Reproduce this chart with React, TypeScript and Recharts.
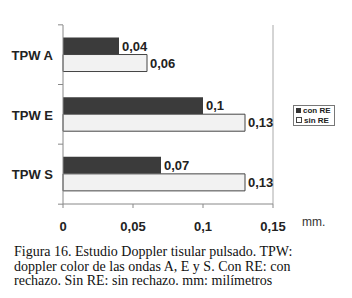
import { BarChart, Bar, XAxis, YAxis, LabelList, ReferenceLine } from 'recharts'

const categories = ['TPW A', 'TPW E', 'TPW S']
const conRE = [0.04, 0.1, 0.07]
const sinRE = [0.06, 0.13, 0.13]
const xTicks = [0, 0.05, 0.1, 0.15]

const data = categories.map((name, i) => ({ name, con: conRE[i], sin: sinRE[i] }))

const comma = (v: any) => String(v).replace('.', ',')
const SANS = '"Liberation Sans", Arial, sans-serif'
const HALF_BAND = 30

// category label plus the small tick marks sitting on the band edges
function CatTick(props: any) {
  const { x, y, payload, index } = props
  return (
    <g>
      <line x1={63} x2={58} y1={y - HALF_BAND} y2={y - HALF_BAND} stroke="#888" />
      {index === categories.length - 1 && (
        <line x1={63} x2={58} y1={y + HALF_BAND} y2={y + HALF_BAND} stroke="#888" />
      )}
      <text x={x} y={y} dy={5} textAnchor="end" fontSize={13} fontWeight="bold" fill="#222" fontFamily={SANS}>
        {payload.value}
      </text>
    </g>
  )
}

function LegendBox() {
  return (
    <div
      style={{
        position: 'absolute', left: 293, top: 105, width: 42, height: 21,
        border: '1px solid #777', fontFamily: SANS, fontSize: 8, fontWeight: 'bold',
        color: '#222', lineHeight: '10px', padding: '0 0 0 2px', boxSizing: 'border-box',
      }}
    >
      <div>
        <span style={{ display: 'inline-block', width: 5, height: 5, background: '#333', marginRight: 2 }} />
        con RE
      </div>
      <div>
        <span style={{ display: 'inline-block', width: 4, height: 4, border: '1px solid #444', background: '#fff', marginRight: 2 }} />
        sin RE
      </div>
    </div>
  )
}

export default function App() {
  return (
    <div style={{ position: 'absolute', left: 0, top: 0, width: 352, height: 298, background: '#fff' }}>
      <BarChart
        width={352}
        height={240}
        data={data}
        layout="vertical"
        margin={{ top: 25, right: 79, left: 5, bottom: 6 }}
        barCategoryGap="21%"
        barGap={0}
      >
        <XAxis
          type="number"
          domain={[0, 0.15]}
          ticks={xTicks}
          tickFormatter={comma}
          tick={{ fontSize: 13, fontWeight: 'bold', fill: '#222', fontFamily: SANS }}
          stroke="#888"
          tickSize={4}
          tickMargin={14}
          height={30}
        />
        <YAxis
          type="category"
          dataKey="name"
          width={58}
          tick={<CatTick />}
          stroke="#888"
          tickLine={false}
          tickSize={0}
          tickMargin={10}
        />
        <ReferenceLine x={0.15} stroke="#aaa" />
        <Bar dataKey="con" fill="#3b3b3b" isAnimationActive={false}>
          <LabelList dataKey="con" position="right" offset={3} formatter={comma}
            style={{ fontSize: 13, fontWeight: 'bold', fill: '#222', fontFamily: SANS }} />
        </Bar>
        <Bar dataKey="sin" fill="#f2f2f2" stroke="#444" strokeWidth={1} isAnimationActive={false}>
          <LabelList dataKey="sin" position="right" offset={3} formatter={comma}
            style={{ fontSize: 13, fontWeight: 'bold', fill: '#222', fontFamily: SANS }} />
        </Bar>
      </BarChart>
      <LegendBox />
      <div style={{ position: 'absolute', left: 302, top: 215, fontFamily: SANS, fontSize: 12, color: '#333' }}>mm.</div>
      <div
        style={{
          position: 'absolute', left: 14, top: 245, width: 336,
          fontFamily: '"Liberation Serif", "Times New Roman", serif', fontSize: 14,
          lineHeight: '14.5px', color: '#111', whiteSpace: 'nowrap',
        }}
      >
        Figura 16. Estudio Doppler tisular pulsado. TPW:<br />
        doppler color de las ondas A, E y S. Con RE: con<br />
        rechazo. Sin RE: sin rechazo. mm: milímetros
      </div>
    </div>
  )
}
